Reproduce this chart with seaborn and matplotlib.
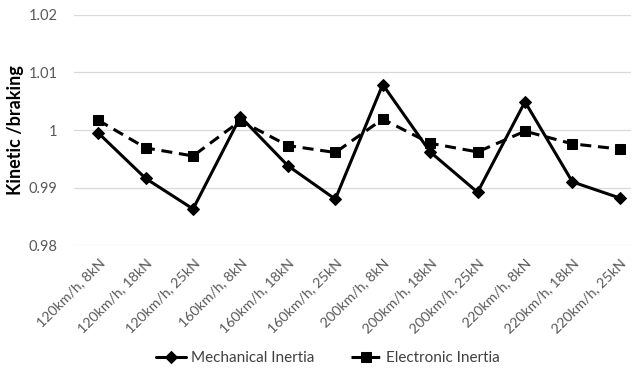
import pandas as pd
import matplotlib
matplotlib.use("Agg")
import matplotlib.pyplot as plt
import seaborn as sns
from matplotlib.ticker import FuncFormatter

# Data
conditions = ['120km/h, 8kN', '120km/h, 18kN', '120km/h, 25kN',
              '160km/h, 8kN', '160km/h, 18kN', '160km/h, 25kN',
              '200km/h, 8kN', '200km/h, 18kN', '200km/h, 25kN',
              '220km/h, 8kN', '220km/h, 18kN', '220km/h, 25kN']
mechanical = [0.9995, 0.9916, 0.9863, 1.0023, 0.9938, 0.9880,
              1.0079, 0.9962, 0.9892, 1.0049, 0.9910, 0.9882]
electronic = [1.0017, 0.9969, 0.9955, 1.0016, 0.9973, 0.9961,
              1.0019, 0.9977, 0.9962, 0.9998, 0.9976, 0.9967]
series_names = ['Mechanical Inertia', 'Electronic Inertia']
y_ticks = [0.98, 0.99, 1.0, 1.01, 1.02]

df = pd.DataFrame({
    'condition': conditions * 2,
    'ratio': mechanical + electronic,
    'series': [series_names[0]] * len(conditions) + [series_names[1]] * len(conditions),
})

sns.set_style('white')
plt.rcParams['font.family'] = ['Lato', 'DejaVu Sans']

fig = plt.figure(figsize=(6.36, 3.71), dpi=100)
ax = fig.add_axes([0.1164, 0.339, 0.8753, 0.621])

sns.lineplot(data=df, x='condition', y='ratio', style='series', sort=False,
             markers={series_names[0]: 'D', series_names[1]: 's'},
             dashes={series_names[0]: '', series_names[1]: (3.6, 2.2)},
             color='black', linewidth=2.2, markersize=6.5,
             markeredgecolor='black', ax=ax)

ax.set_ylim(0.98, 1.02)
ax.set_yticks(y_ticks)
ax.yaxis.set_major_formatter(FuncFormatter(lambda v, p: '{:g}'.format(round(v, 4))))
ax.set_xlim(-0.51, 11.23)
ax.set_xticks(range(len(conditions)))
ax.set_xticklabels(conditions, rotation=45, ha='right', rotation_mode='anchor')
ax.tick_params(axis='both', length=0, labelsize=10.5, colors='#595959')
ax.tick_params(axis='x', labelsize=10.2, pad=8)
ax.tick_params(axis='y', pad=12)
ax.grid(axis='y', color='#d9d9d9', linewidth=0.9)
ax.set_axisbelow(True)
for s in ax.spines.values():
    s.set_visible(False)

ax.set_xlabel('')
ax.set_ylabel('Kinetic /braking', fontsize=13, fontweight='bold', color='black')
ax.yaxis.set_label_coords(-0.09, 0.5)

handles, labels = ax.get_legend_handles_labels()
ax.get_legend().remove()
fig.legend(handles, labels, loc='center', bbox_to_anchor=(0.515, 0.035), ncol=2,
           frameon=False, fontsize=11, handlelength=2.0, handletextpad=0.3,
           columnspacing=2.4, labelcolor='#404040')

fig.savefig('out.png', dpi=100)
